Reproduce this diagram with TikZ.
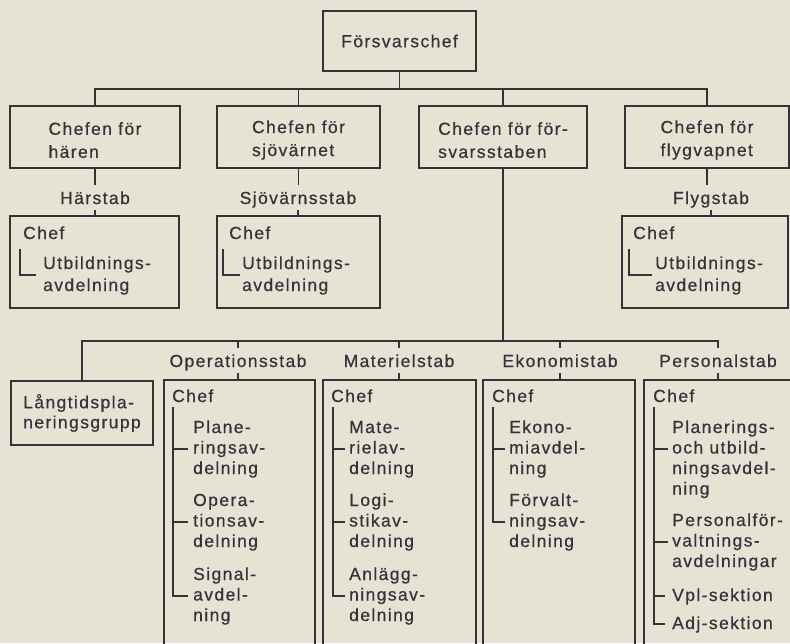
\documentclass[tikz,border=0pt]{standalone}
\usepackage{fontspec}
\setmainfont{Liberation Sans}[LetterSpace=8, FakeBold=0.5]
\definecolor{paper}{HTML}{E7E3D4}
\definecolor{ink}{HTML}{35323A}
% extra room above the first line of a framed caption
\newcommand\hdstrut{\rule{0pt}{18.8pt}}

\begin{document}
\begin{tikzpicture}[x=1pt,y=-1pt,
  txt/.style={text=ink, inner sep=0pt, font=\fontsize{17.5}{20.5}\selectfont},
  frame/.style={draw=ink, line width=1.9pt, inner sep=0pt, text=ink,
                font=\fontsize{17.5}{23}\selectfont, align=left},
  upper/.style={frame, minimum height=62pt},
  staff/.style={frame, minimum height=92pt},
  deep/.style={frame, minimum height=300pt},
  stab/.style={txt, anchor=base, text height=12.8pt, text depth=0pt,
               inner ysep=6pt, inner xsep=0pt},
  % multi-line items are anchored at the baseline of their last line
  item/.style={txt, anchor=base west, align=left},
  conn/.style={draw=ink, line width=1.2pt},
]
\useasboundingbox (0,0) rectangle (790,643);
\fill[paper] (0,0) rectangle (790,643);

% ---------- top ----------
\node[frame, minimum width=153pt, minimum height=60pt] (fc) at (399.5,41) {Försvarschef};

% ---------- commanders ----------
\node[upper, minimum width=170pt] (ch) at (95,137)  {\hdstrut Chefen för\\hären};
\node[upper, minimum width=163pt] (cs) at (298.5,137) {\hdstrut Chefen för\\sjövärnet};
\node[upper, minimum width=168pt] (cf) at (503,137) {\hdstrut Chefen för för-\\svarsstaben};
\node[upper, minimum width=164pt] (cv) at (707,137) {\hdstrut Chefen för\\flygvapnet};

\coordinate (bus1) at (0,89);
\draw[conn] (fc.south) -- (fc.south |- bus1);
\draw[conn] (ch.north) |- (cv.north |- bus1) -- (cv.north);
\draw[conn] (cs.north) -- (cs.north |- bus1);
\draw[conn] (cf.north) -- (cf.north |- bus1);

% ---------- service staffs ----------
\node[stab] (hst) at (95,204) {Härstab};
\node[stab] (sst) at (298,204) {Sjövärnsstab};
\node[stab] (fst) at (711,204) {Flygstab};

\node[staff, minimum width=169pt] (hb) at (94.5,262) {};
\node[staff, minimum width=163pt] (sb) at (298.5,262) {};
\node[staff, minimum width=166pt] (fb) at (705,262) {};

\draw[conn] (ch.south) -- (ch.south |- hst.north);
\draw[conn] (hst.south) -- (hst.south |- hb.north);
\draw[conn] (cs.south) -- (cs.south |- sst.north);
\draw[conn] (sst.south) -- (sst.south |- sb.north);
\draw[conn] (cv.south) -- (cv.south |- fst.north);
\draw[conn] (fst.south) -- (fst.south |- fb.north);

% contents of the service staff boxes
\node[item] (hchef) at (23,239) {Chef};
\node[item, font=\fontsize{17.5}{22}\selectfont] (hutb) at (43,291) {Utbildnings-\\avdelning};
\draw[conn] (20,249) -- (20,275) -- (36,275);

\node[item] (schef) at (229,239) {Chef};
\node[item, font=\fontsize{17.5}{22}\selectfont] (sutb) at (242,291) {Utbildnings-\\avdelning};
\draw[conn] (223,249) -- (223,275) -- (240,275);

\node[item] (fchef) at (633,239) {Chef};
\node[item, font=\fontsize{17.5}{22}\selectfont] (futb) at (655,291) {Utbildnings-\\avdelning};
\draw[conn] (629,249) -- (629,275) -- (652,275);

% ---------- defence staff ----------
\coordinate (bus2) at (0,341);
\node[frame, font=\fontsize{17.5}{20}\selectfont, minimum width=142pt, minimum height=64pt]
  (lt) at (82,413) {Långtidspla-\\neringsgrupp};

\node[stab] (ost) at (238,367) {Operationsstab};
\node[stab] (mst) at (399,367) {Materielstab};
\node[stab] (est) at (560,367) {Ekonomistab};
\node[stab] (pst) at (718,367) {Personalstab};

\node[deep, minimum width=151pt] (ob) at (239.5,530) {};
\node[deep, minimum width=153pt] (mb) at (399.5,530) {};
\node[deep, minimum width=152pt] (eb) at (559,530) {};
\node[deep, minimum width=156pt] (pb) at (722,530) {};

\draw[conn] (cf.south) -- (cf.south |- bus2);
\draw[conn] (lt.north) |- (pst.north |- bus2) -- (pst.north);
\draw[conn] (ost.north |- bus2) -- (ost.north);
\draw[conn] (mst.north |- bus2) -- (mst.north);
\draw[conn] (est.north |- bus2) -- (est.north);
\draw[conn] (ost.south) -- (ost.south |- ob.north);
\draw[conn] (mst.south) -- (mst.south |- mb.north);
\draw[conn] (est.south) -- (est.south |- eb.north);
\draw[conn] (pst.south) -- (pst.south |- pb.north);

% Operationsstab
\node[item] (ochef) at (172,402) {Chef};
\node[item] (o1) at (193,474) {Plane-\\ringsav-\\delning};
\node[item] (o2) at (193,547) {Opera-\\tionsav-\\delning};
\node[item] (o3) at (193,621) {Signal-\\avdel-\\ning};
\draw[conn] (173,407) -- (173,596) -- (188,596);
\draw[conn] (173,449) -- (188,449);
\draw[conn] (173,522) -- (188,522);

% Materielstab
\node[item] (mchef) at (331,402) {Chef};
\node[item] (m1) at (349,474) {Mate-\\rielav-\\delning};
\node[item] (m2) at (349,547) {Logi-\\stikav-\\delning};
\node[item] (m3) at (349,621) {Anlägg-\\ningsav-\\delning};
\draw[conn] (333,407) -- (333,596) -- (345,596);
\draw[conn] (333,449) -- (345,449);
\draw[conn] (333,522) -- (345,522);

% Ekonomistab
\node[item] (echef) at (492,402) {Chef};
\node[item] (e1) at (509,474) {Ekono-\\miavdel-\\ning};
\node[item] (e2) at (509,547) {Förvalt-\\ningsav-\\delning};
\draw[conn] (493,407) -- (493,522) -- (505,522);
\draw[conn] (493,449) -- (505,449);

% Personalstab
\node[item] (pchef) at (653,402) {Chef};
\node[item] (p1) at (672,494.5) {Planerings-\\och utbild-\\ningsavdel-\\ning};
\node[item] (p2) at (672,567) {Personalför-\\valtnings-\\avdelningar};
\node[item] (p3) at (672,601) {Vpl-sektion};
\node[item] (p4) at (672,629) {Adj-sektion};
\draw[conn] (654,407) -- (654,624) -- (665,624);
\draw[conn] (654,449) -- (668,449);
\draw[conn] (654,542) -- (668,542);
\draw[conn] (654,596) -- (665,596);
\end{tikzpicture}
\end{document}
